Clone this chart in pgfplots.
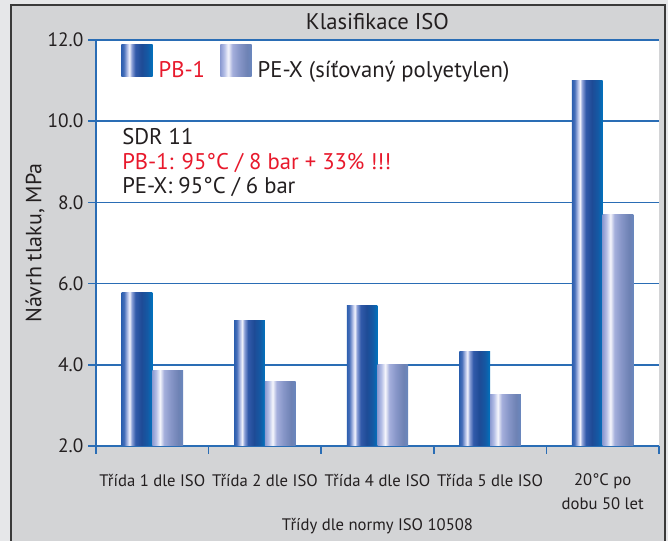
\documentclass[border=0pt]{standalone}
\usepackage{pgfplots}
\pgfplotsset{compat=1.18}
\usepackage{fontspec}
\setmainfont{PT Sans}
\definecolor{bgouter}{HTML}{E6E7E9}
\definecolor{panel}{HTML}{D3D4D6}
\definecolor{framec}{HTML}{3A3A3A}
\definecolor{blue1}{HTML}{2A6DB5}
\definecolor{textc}{HTML}{231F20}
\definecolor{redc}{HTML}{E8192C}
% PB-1 gradient colours
\definecolor{pbA}{RGB}{45,95,175}
\definecolor{pbB}{RGB}{70,110,185}
\definecolor{pbC}{RGB}{190,200,235}
\definecolor{pbD}{RGB}{242,243,252}
\definecolor{pbE}{RGB}{140,160,215}
\definecolor{pbF}{RGB}{50,90,170}
\definecolor{pbG}{RGB}{30,75,150}
\definecolor{pbH}{RGB}{20,90,165}
\definecolor{pbI}{RGB}{0,115,190}
% PE-X gradient colours
\definecolor{peA}{RGB}{140,155,210}
\definecolor{peB}{RGB}{180,190,230}
\definecolor{peC}{RGB}{246,246,252}
\definecolor{peD}{RGB}{165,175,220}
\definecolor{peE}{RGB}{135,150,200}
\definecolor{peF}{RGB}{110,130,180}
\definecolor{peG}{RGB}{105,135,190}
\pgfdeclarehorizontalshading{pbshade}{100bp}{color(0bp)=(pbA); color(25bp)=(pbA); color(29bp)=(pbB); color(35bp)=(pbC); color(38bp)=(pbD); color(41.5bp)=(pbE); color(47.5bp)=(pbF); color(57.5bp)=(pbG); color(67.5bp)=(pbH); color(75bp)=(pbI); color(100bp)=(pbI)}
\pgfdeclarehorizontalshading{peshade}{100bp}{color(0bp)=(peA); color(25bp)=(peA); color(31bp)=(peB); color(37.5bp)=(peC); color(44bp)=(peD); color(55bp)=(peE); color(67.5bp)=(peF); color(75bp)=(peG); color(100bp)=(peG)}
\pgfplotsset{
  pbbar/.style={ybar, bar width=0.2727, bar shift=-0.1364, draw=none, shade, shading=pbshade,
    legend image code/.code={\shade[shading=pbshade] (0pt,-4.3pt) rectangle (23.5pt,19.5pt);}},
  pebar/.style={ybar, bar width=0.2727, bar shift=0.1364, draw=none, shade, shading=peshade,
    legend image code/.code={\shade[shading=peshade] (0pt,-4.3pt) rectangle (23.5pt,19.5pt);}},
}
\begin{document}
\begin{tikzpicture}
\useasboundingbox (0,0) rectangle (501pt,405.75pt);
\fill[bgouter] (0,0) rectangle (501pt,405.75pt);
\fill[panel] (7.9pt,0pt) rectangle (498.75pt,402pt);
\draw[framec, line width=1.5pt] (7.9pt,0pt) -- (7.9pt,402pt) -- (498.75pt,402pt) -- (498.75pt,0pt);
\node[font=\fontsize{17}{20}\selectfont, text=textc] at (283.1pt,389.25pt) {Klasifikace ISO};
\begin{axis}[
  at={(72pt,71.25pt)}, anchor=south west,
  scale only axis, width=422.25pt, height=304.5pt,
  xmin=0, xmax=5, ymin=2, ymax=12,
  axis x line*=bottom, axis y line*=left,
  axis line style={-, blue1, line width=1.1pt},
  axis background/.style={fill=white},
  ymajorgrids, grid style={blue1, line width=1.1pt},
  ytick={2,4,6,8,10,12},
  xtick={0,1,2,3,4,5}, xticklabels={,,,,,},
  tick align=outside, major tick length=6pt,
  tick style={blue1, line width=1.1pt},
  yticklabel style={font=\fontsize{14.5}{17}\selectfont, text=textc,
    /pgf/number format/.cd, fixed, fixed zerofill, precision=1, assume math mode=true},
  extra x ticks={0.5,1.5,2.5,3.5,4.5},
  extra x tick labels={Třída 1 dle ISO, Třída 2 dle ISO, Třída 4 dle ISO, Třída 5 dle ISO, {20°C po\\dobu 50 let}},
  extra x tick style={major tick length=0pt,
    xticklabel style={align=center, yshift=-17.5pt, font=\fontsize{12.5}{18}\selectfont, text=textc}},
  xlabel={Třídy dle normy ISO 10508},
  x label style={at={(axis description cs:0.5,-0.197)}, anchor=center, font=\fontsize{12.5}{15}\selectfont, text=textc},
  ylabel={Návrh tlaku, MPa},
  y label style={at={(axis description cs:-0.1083,0.5)}, anchor=center, font=\fontsize{16.5}{20}\selectfont, text=textc},
  legend columns=2,
  legend style={at={(0.0444,0.990)}, anchor=north west, draw=none, fill=none, inner sep=0pt,
    font=\fontsize{17}{20}\selectfont, text=textc,
    /tikz/every odd column/.append style={column sep=2.5pt},
    /tikz/every even column/.append style={column sep=9.5pt}},
]
% PB-1, one bar per plot so each bar carries its own gradient
\addplot[pbbar] coordinates {(0.5,5.77)};
\addlegendentry{\textcolor{redc}{PB-1}}
\addplot[pebar] coordinates {(0.5,3.87)};
\addlegendentry{PE-X (síťovaný polyetylen)}
\addplot[pbbar, forget plot] coordinates {(1.5,5.10)};
\addplot[pbbar, forget plot] coordinates {(2.5,5.47)};
\addplot[pbbar, forget plot] coordinates {(3.5,4.32)};
\addplot[pbbar, forget plot] coordinates {(4.5,11.0)};
\addplot[pebar, forget plot] coordinates {(1.5,3.58)};
\addplot[pebar, forget plot] coordinates {(2.5,4.00)};
\addplot[pebar, forget plot] coordinates {(3.5,3.28)};
\addplot[pebar, forget plot] coordinates {(4.5,7.69)};
\node[anchor=base west, inner sep=0pt, font=\fontsize{17}{20}\selectfont, text=textc] at (rel axis cs:0.0462,0.7414) {SDR 11};
\node[anchor=base west, inner sep=0pt, font=\fontsize{17}{20}\selectfont, text=redc] at (rel axis cs:0.0462,0.681) {PB-1: 95°C / 8 bar + 33\% !!!};
\node[anchor=base west, inner sep=0pt, font=\fontsize{17}{20}\selectfont, text=textc] at (rel axis cs:0.0462,0.623) {PE-X: 95°C / 6 bar};
\end{axis}
\end{tikzpicture}
\end{document}
